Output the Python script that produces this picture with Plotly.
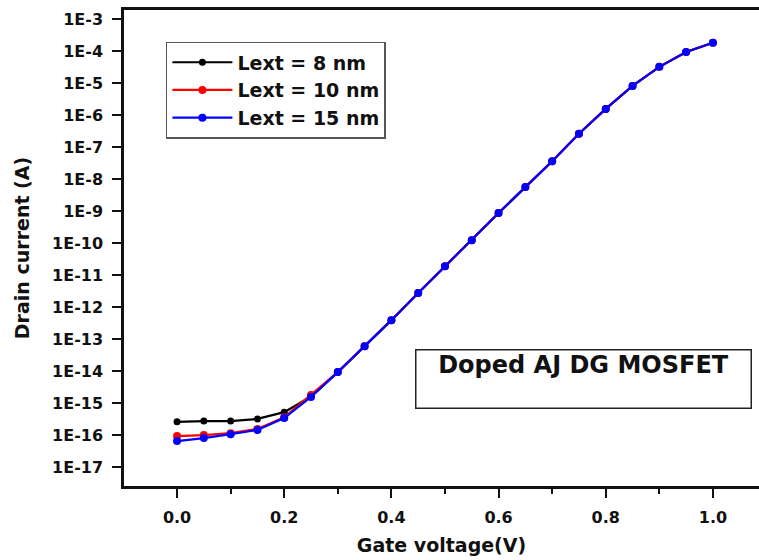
import plotly.graph_objects as go

# Gate voltage sweep (V)
gate_voltage = [0.00, 0.05, 0.10, 0.15, 0.20, 0.25, 0.30, 0.35, 0.40, 0.45, 0.50,
                0.55, 0.60, 0.65, 0.70, 0.75, 0.80, 0.85, 0.90, 0.95, 1.00]

# Drain current (A) for each extension length
id_lext_8nm = [2.6e-16, 2.75e-16, 2.75e-16, 3.2e-16, 5.2e-16, 1.6e-15, 9.3e-15,
               6.0e-14, 3.9e-13, 2.75e-12, 1.9e-11, 1.23e-10, 8.7e-10, 5.6e-9,
               3.6e-8, 2.6e-7, 1.55e-6, 8.1e-6, 3.2e-5, 9.3e-5, 1.8e-4]
id_lext_10nm = [9.3e-17, 1.0e-16, 1.15e-16, 1.55e-16, 3.6e-16, 1.8e-15, 9.3e-15,
                6.0e-14, 3.9e-13, 2.75e-12, 1.9e-11, 1.23e-10, 8.7e-10, 5.6e-9,
                3.6e-8, 2.6e-7, 1.55e-6, 8.1e-6, 3.2e-5, 9.3e-5, 1.8e-4]
id_lext_15nm = [6.5e-17, 8.1e-17, 1.07e-16, 1.44e-16, 3.4e-16, 1.55e-15, 9.3e-15,
                6.0e-14, 3.9e-13, 2.75e-12, 1.9e-11, 1.23e-10, 8.7e-10, 5.6e-9,
                3.6e-8, 2.6e-7, 1.55e-6, 8.1e-6, 3.2e-5, 9.3e-5, 1.8e-4]

series_names = ["Lext = 8 nm", "Lext = 10 nm", "Lext = 15 nm"]
series_colors = ["#000000", "#ff0000", "#0000ff"]

# Decade ticks on the current axis
y_exponents = list(range(-3, -18, -1))
y_tickvals = [10.0 ** e for e in y_exponents]
y_ticktext = [f"1E{e}" for e in y_exponents]

x_tickvals = [0.0, 0.2, 0.4, 0.6, 0.8, 1.0]
x_ticktext = ["0.0", "0.2", "0.4", "0.6", "0.8", "1.0"]

FONT = "DejaVu Sans"

fig = go.Figure()
for name, ys, color, size in zip(series_names,
                                 [id_lext_8nm, id_lext_10nm, id_lext_15nm],
                                 series_colors, [7, 8, 8]):
    fig.add_trace(go.Scatter(
        x=gate_voltage, y=ys, name=name, legendgroup=name,
        mode="lines+markers",
        line=dict(color=color, width=2.2),
        marker=dict(color=color, size=size, symbol="circle"),
    ))

fig.add_annotation(
    text="Doped AJ DG MOSFET",
    xref="paper", yref="paper", x=0.7244, y=0.2258,
    xanchor="center", yanchor="middle",
    showarrow=False, width=334, height=57, valign="top", borderpad=0,
    bordercolor="#222222", borderwidth=1.5, bgcolor="white",
    font=dict(family=FONT, size=24, color="#111111", weight="bold"),
)

fig.update_layout(
    width=759, height=560,
    margin=dict(l=124, r=0, t=10, b=74),
    paper_bgcolor="white", plot_bgcolor="white",
    font=dict(family=FONT, color="#111111", weight="bold"),
    showlegend=True,
    legend=dict(
        x=0.066, y=0.933, xanchor="left", yanchor="top",
        bgcolor="white", bordercolor="#555555", borderwidth=1.5,
        font=dict(family=FONT, size=19, color="#111111", weight="bold"),
        itemwidth=60, tracegroupgap=0,
    ),
    xaxis=dict(
        range=[-0.099, 1.086],
        tickmode="array", tickvals=x_tickvals, ticktext=x_ticktext,
        ticks="outside", ticklen=9, tickwidth=2, tickcolor="#111111",
        showline=True, linewidth=2.5, linecolor="#111111", mirror=True,
        showgrid=False, zeroline=False,
        tickfont=dict(family=FONT, size=16, weight="bold"),
        ticklabelstandoff=6,
        minor=dict(tickvals=[0.1, 0.3, 0.5, 0.7, 0.9], ticks="outside",
                   ticklen=5, tickwidth=2, tickcolor="#111111", showgrid=False),
        title=dict(text="Gate voltage(V)", standoff=13,
                   font=dict(family=FONT, size=19, weight="bold")),
    ),
    yaxis=dict(
        type="log", range=[-17.59, -2.719],
        tickmode="array", tickvals=y_tickvals, ticktext=y_ticktext,
        ticks="outside", ticklen=9, tickwidth=2, tickcolor="#111111",
        showline=True, linewidth=2.5, linecolor="#111111", mirror=False,
        showgrid=False, zeroline=False,
        tickfont=dict(family=FONT, size=16, weight="bold"),
        ticklabelstandoff=6,
        title=dict(text="Drain current (A)", standoff=18,
                   font=dict(family=FONT, size=19, weight="bold")),
    ),
)

fig.write_html("out.html")
